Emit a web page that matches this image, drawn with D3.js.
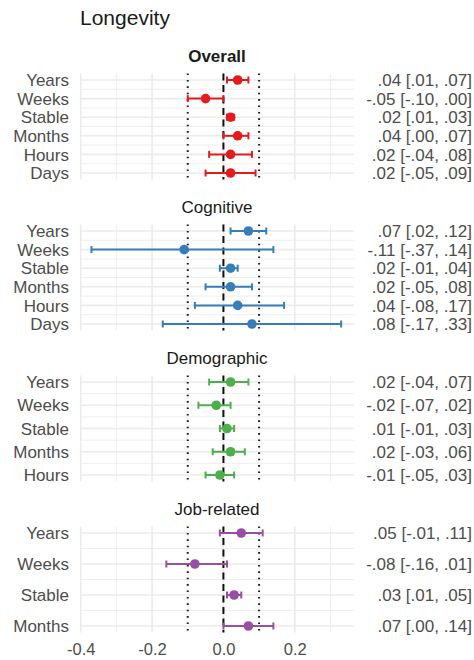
<!DOCTYPE html>
<html>
<head>
<meta charset="utf-8">
<script src="https://cdn.jsdelivr.net/npm/d3@7"></script>
<style>
  html, body { margin: 0; padding: 0; background: #fff; }
  svg { display: block; font-family: "Liberation Sans", Arial, sans-serif; }
</style>
</head>
<body>
<svg id="chart" width="474" height="660"></svg>
<script>
// Effect sizes with 95% intervals, one facet per predictor domain
const panelNames = ["Overall", "Cognitive", "Demographic", "Job-related"];
const panelColors = ["#E41A1C", "#377EB8", "#4DAF4A", "#984EA3"];

const overallCats = ["Years", "Weeks", "Stable", "Months", "Hours", "Days"];
const overallEst  = [0.04, -0.05, 0.02, 0.04, 0.02, 0.02];
const overallLo   = [0.01, -0.10, 0.01, 0.00, -0.04, -0.05];
const overallHi   = [0.07, 0.00, 0.03, 0.07, 0.08, 0.09];

const cognitiveCats = ["Years", "Weeks", "Stable", "Months", "Hours", "Days"];
const cognitiveEst  = [0.07, -0.11, 0.02, 0.02, 0.04, 0.08];
const cognitiveLo   = [0.02, -0.37, -0.01, -0.05, -0.08, -0.17];
const cognitiveHi   = [0.12, 0.14, 0.04, 0.08, 0.17, 0.33];

const demographicCats = ["Years", "Weeks", "Stable", "Months", "Hours"];
const demographicEst  = [0.02, -0.02, 0.01, 0.02, -0.01];
const demographicLo   = [-0.04, -0.07, -0.01, -0.03, -0.05];
const demographicHi   = [0.07, 0.02, 0.03, 0.06, 0.03];

const jobCats = ["Years", "Weeks", "Stable", "Months"];
const jobEst  = [0.05, -0.08, 0.03, 0.07];
const jobLo   = [-0.01, -0.16, 0.01, 0.00];
const jobHi   = [0.11, 0.01, 0.05, 0.14];

const xTicks = [-0.4, -0.2, 0.0, 0.2];
const xMinorTicks = [-0.3, -0.1, 0.1, 0.3];
const refLines = [-0.1, 0.1];

const panels = [
  { cats: overallCats, est: overallEst, lo: overallLo, hi: overallHi },
  { cats: cognitiveCats, est: cognitiveEst, lo: cognitiveLo, hi: cognitiveHi },
  { cats: demographicCats, est: demographicEst, lo: demographicLo, hi: demographicHi },
  { cats: jobCats, est: jobEst, lo: jobLo, hi: jobHi }
].map((p, i) => ({ ...p, name: panelNames[i], color: panelColors[i] }));

// ---- layout ----
const svg = d3.select("#chart");
const left = 80, right = 354;
const panelTop0 = 73.5, panelStep = 151, panelH = 106, innerPad = 6.5;

const x = d3.scaleLinear().domain([-0.402, 0.366]).range([left, right]);

// plain hyphen-minus, leading zero dropped: -0.05 -> "-.05"
const hyphen = s => s.replace(/\u2212/g, "-");
const fmtNum = v => hyphen(d3.format(".2f")(v)).replace(/^(-?)0\./, "$1.");
const ciLabel = (e, l, h) => `${fmtNum(e)} [${fmtNum(l)}, ${fmtNum(h)}]`;
const fmtTick = v => hyphen(d3.format(".1f")(v));

const gridCol = "#ebebeb";
const textGrey = "#4d4d4d";

svg.append("text")
  .attr("x", 80).attr("y", 24.5)
  .attr("font-size", 21).attr("fill", "#1a1a1a")
  .text("Longevity");

panels.forEach((p, i) => {
  const top = panelTop0 + i * panelStep;
  const bottom = top + panelH;
  const y = d3.scalePoint().domain(p.cats).range([top + innerPad, bottom - innerPad]);
  const g = svg.append("g");

  // minor horizontal gridlines between rows
  const mids = d3.pairs(p.cats).map(([a, b]) => (y(a) + y(b)) / 2);
  g.selectAll(".hmin").data(mids).join("line")
    .attr("x1", left).attr("x2", right)
    .attr("y1", d => d).attr("y2", d => d)
    .attr("stroke", gridCol).attr("stroke-width", 0.8);

  // minor vertical gridlines
  g.selectAll(".vmin").data(xMinorTicks).join("line")
    .attr("x1", d => x(d)).attr("x2", d => x(d))
    .attr("y1", top).attr("y2", bottom)
    .attr("stroke", gridCol).attr("stroke-width", 0.8);

  // major gridlines
  g.selectAll(".hmaj").data(p.cats).join("line")
    .attr("x1", left).attr("x2", right)
    .attr("y1", d => y(d)).attr("y2", d => y(d))
    .attr("stroke", gridCol).attr("stroke-width", 1.6);
  g.selectAll(".vmaj").data(xTicks).join("line")
    .attr("x1", d => x(d)).attr("x2", d => x(d))
    .attr("y1", top).attr("y2", bottom)
    .attr("stroke", gridCol).attr("stroke-width", 1.6);

  // reference lines: dotted at ±0.1, dashed at zero
  g.selectAll(".ref").data(refLines).join("line")
    .attr("x1", d => x(d)).attr("x2", d => x(d))
    .attr("y1", top).attr("y2", bottom)
    .attr("stroke", "#1a1a1a").attr("stroke-width", 2)
    .attr("stroke-dasharray", "1.6,4.8");
  g.append("line")
    .attr("x1", x(0)).attr("x2", x(0))
    .attr("y1", top).attr("y2", bottom)
    .attr("stroke", "#111").attr("stroke-width", 2)
    .attr("stroke-dasharray", "7,4.5");

  // panel title
  svg.append("text")
    .attr("x", (left + right) / 2).attr("y", top - 11.5)
    .attr("text-anchor", "middle")
    .attr("font-size", 17).attr("fill", "#1a1a1a")
    .attr("font-weight", i === 0 ? "bold" : "normal")
    .text(p.name);

  const rows = p.cats.map((c, k) => ({ c, e: p.est[k], l: p.lo[k], h: p.hi[k] }));

  // interval bars with caps
  const bars = g.selectAll(".bar").data(rows).join("g");
  bars.append("line")
    .attr("x1", d => x(d.l)).attr("x2", d => x(d.h))
    .attr("y1", d => y(d.c)).attr("y2", d => y(d.c))
    .attr("stroke", p.color).attr("stroke-width", 2);
  bars.selectAll(".cap").data(d => [d.l, d.h].map(v => ({ v, c: d.c }))).join("line")
    .attr("x1", d => x(d.v)).attr("x2", d => x(d.v))
    .attr("y1", d => y(d.c) - 3.5).attr("y2", d => y(d.c) + 3.5)
    .attr("stroke", p.color).attr("stroke-width", 2);

  // point estimates
  g.selectAll(".pt").data(rows).join("circle")
    .attr("cx", d => x(d.e)).attr("cy", d => y(d.c))
    .attr("r", 4.8).attr("fill", p.color);

  // category labels
  svg.append("g").selectAll("text").data(rows).join("text")
    .attr("x", 69).attr("y", d => y(d.c)).attr("dy", "0.36em")
    .attr("text-anchor", "end").attr("font-size", 17).attr("fill", textGrey)
    .text(d => d.c);

  // estimate [CI] labels
  svg.append("g").selectAll("text").data(rows).join("text")
    .attr("x", 472).attr("y", d => y(d.c)).attr("dy", "0.36em")
    .attr("text-anchor", "end").attr("font-size", 17).attr("fill", textGrey)
    .text(d => ciLabel(d.e, d.l, d.h));
});

// shared x axis under the last panel
const axis = d3.axisBottom(x).tickValues(xTicks).tickFormat(fmtTick).tickSize(0).tickPadding(0);
const lastBottom = panelTop0 + (panels.length - 1) * panelStep + panelH;
const ax = svg.append("g").attr("transform", `translate(0,${lastBottom + 11})`).call(axis);
ax.select(".domain").remove();
ax.selectAll("text").attr("font-size", 16.5).attr("fill", textGrey)
  .attr("font-family", "'Liberation Sans', Arial, sans-serif");
</script>
</body>
</html>
